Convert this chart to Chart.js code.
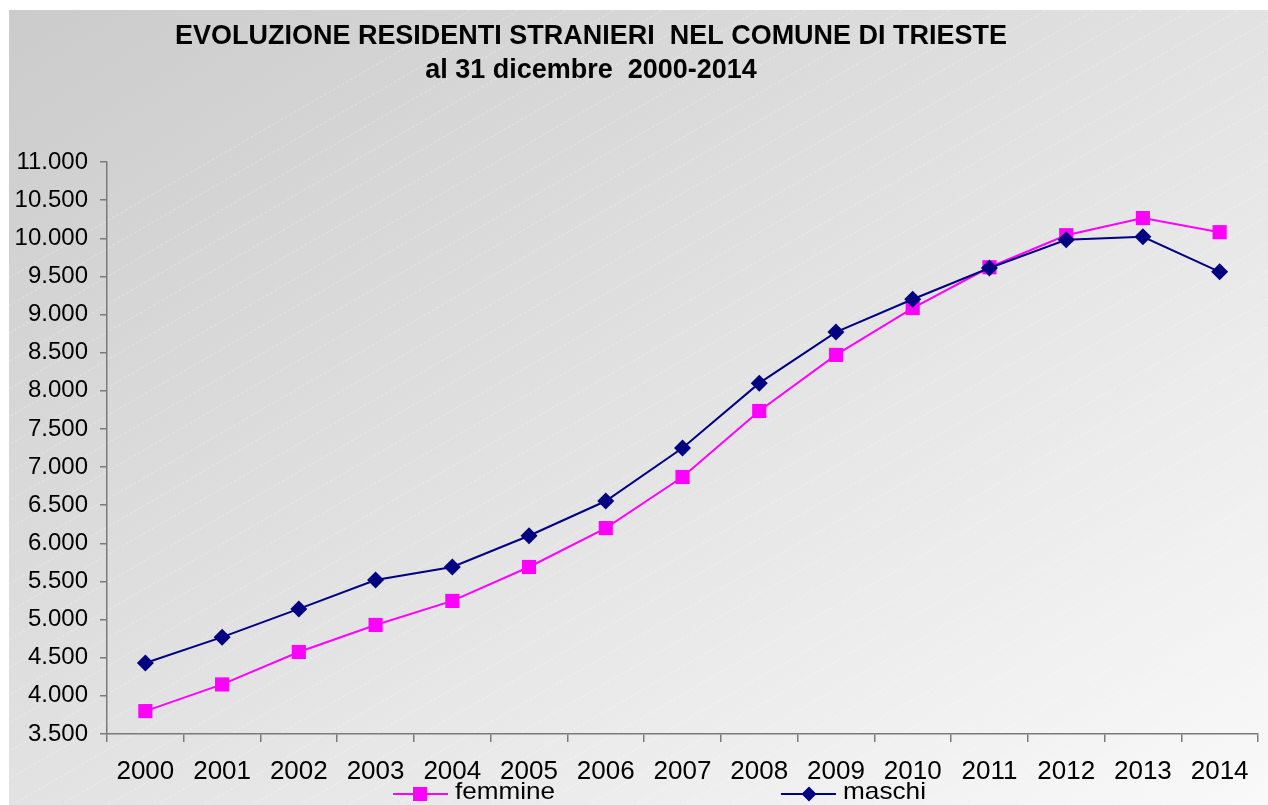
<!DOCTYPE html>
<html><head><meta charset="utf-8">
<script src="https://cdn.jsdelivr.net/npm/chart.js@4/dist/chart.umd.min.js"></script>
<style>html,body{margin:0;padding:0;background:#fff;overflow:hidden}canvas{display:block}</style>
</head><body>
<canvas id="c" width="1268" height="805"></canvas>
<script>
const years = ['2000','2001','2002','2003','2004','2005','2006','2007','2008','2009','2010','2011','2012','2013','2014'];
const femmine = [3800,4150,4575,4930,5245,5690,6200,6870,7735,8470,9085,9620,10040,10265,10080];
const maschi = [4430,4770,5140,5520,5690,6100,6555,7250,8100,8770,9200,9610,9980,10020,9560];
const seriesNames = ['femmine','maschi'];
const titleLines = ['EVOLUZIONE RESIDENTI STRANIERI  NEL COMUNE DI TRIESTE','al 31 dicembre  2000-2014'];
const yMin = 3500, yMax = 11000, yStep = 500;

const FONT = "'Liberation Sans', Arial, sans-serif";
Chart.defaults.font.family = FONT;

function fmt(v){ return String(v).replace(/\B(?=(\d{3})+(?!\d))/g,'.'); }

const bgPlugin = {
  id:'bg',
  beforeDraw(chart){
    const ctx = chart.ctx, W = chart.width, H = chart.height;
    ctx.save();
    ctx.fillStyle = '#ffffff';
    ctx.fillRect(0,0,W,H);
    const x0 = 9, y0 = 10;
    const g = ctx.createLinearGradient(x0, y0, 727, 1147);
    g.addColorStop(0, '#cbcbcb');
    g.addColorStop(0.5, '#e2e2e2');
    g.addColorStop(1, '#f9f9f9');
    ctx.fillStyle = g;
    ctx.fillRect(x0, y0, W-x0, H-y0);
    ctx.beginPath(); ctx.rect(x0,y0,W-x0,H-y0); ctx.clip();
    ctx.strokeStyle = 'rgba(255,255,255,0.3)';
    ctx.lineWidth = 1;
    ctx.setLineDash([3,2]);
    const slope = 0.58;
    for (let x = -900; x < W + 900; x += 48) {
      ctx.beginPath();
      ctx.moveTo(x, H);
      ctx.lineTo(x + (H/slope), 0);
      ctx.stroke();
    }
    ctx.restore();
  }
};

const titlePlugin = {
  id:'customTitle',
  afterDraw(chart){
    const ctx = chart.ctx;
    ctx.save();
    ctx.fillStyle = '#000';
    ctx.font = "bold 27px " + FONT;
    ctx.textAlign = 'center';
    ctx.textBaseline = 'alphabetic';
    const w = ctx.measureText(titleLines[0]).width;
    const sx = 832 / w;
    const bases = [44, 78];
    titleLines.forEach((t,i)=>{
      ctx.save();
      ctx.translate(591, bases[i]);
      ctx.scale(sx,1);
      ctx.fillText(t,0,0);
      ctx.restore();
    });
    ctx.restore();
  }
};

const legendPlugin = {
  id:'customLegend',
  afterDraw(chart){
    const ctx = chart.ctx;
    const items = [
      {ds: chart.data.datasets[0], x0:393, x1:448, mx:420, tx:455, tw:100},
      {ds: chart.data.datasets[1], x0:781, x1:836, mx:809, tx:843, tw:83}
    ];
    const y = 794;
    ctx.save();
    items.forEach(it=>{
      ctx.strokeStyle = it.ds.borderColor;
      ctx.lineWidth = 2;
      ctx.beginPath(); ctx.moveTo(it.x0,y); ctx.lineTo(it.x1,y); ctx.stroke();
      ctx.fillStyle = it.ds.pointBackgroundColor;
      ctx.beginPath();
      if (it.ds.pointStyle === 'rect') {
        ctx.rect(it.mx-7, y-7, 14, 14);
      } else {
        const r = 7.5;
        ctx.moveTo(it.mx-r,y); ctx.lineTo(it.mx,y-r); ctx.lineTo(it.mx+r,y); ctx.lineTo(it.mx,y+r); ctx.closePath();
      }
      ctx.fill();
      ctx.fillStyle = '#000';
      ctx.font = "24px " + FONT;
      ctx.textAlign = 'left';
      ctx.textBaseline = 'alphabetic';
      const w = ctx.measureText(it.ds.label).width;
      ctx.save();
      ctx.translate(it.tx, 799);
      ctx.scale(it.tw / w, 1);
      ctx.fillText(it.ds.label, 0, 0);
      ctx.restore();
    });
    ctx.restore();
  }
};

const axisColor = '#7a7a7a';

new Chart(document.getElementById('c'), {
  type:'line',
  data:{
    labels: years,
    datasets:[
      {label: seriesNames[0], data: femmine, borderColor:'#ff00ff', backgroundColor:'#ff00ff',
       pointBackgroundColor:'#ff00ff', pointBorderColor:'#ff00ff', pointStyle:'rect', pointRadius:10,
       pointBorderWidth:0, borderWidth:2, tension:0, fill:false, order:1},
      {label: seriesNames[1], data: maschi, borderColor:'#000080', backgroundColor:'#000080',
       pointBackgroundColor:'#000080', pointBorderColor:'#000080', pointStyle:'rectRot', pointRadius:8.5,
       pointBorderWidth:0, borderWidth:2, tension:0, fill:false, order:0}
    ]
  },
  options:{
    responsive:false,
    devicePixelRatio:1,
    animation:false,
    layout:{padding:{left:9, top:162, right:2, bottom:0}},
    plugins:{legend:{display:false}, title:{display:false}, tooltip:{enabled:false}},
    scales:{
      x:{
        type:'category',
        offset:true,
        grid:{offset:true, drawOnChartArea:false, drawTicks:true, tickLength:8, color:axisColor, lineWidth:1.5},
        border:{display:true, color:axisColor, width:1.5},
        ticks:{color:'#000', font:{size:26}, padding:14, maxRotation:0, autoSkip:false},
        afterFit(s){ s.height = 71; }
      },
      y:{
        min:yMin, max:yMax,
        grid:{drawOnChartArea:false, drawTicks:true, tickLength:7, color:axisColor, lineWidth:1.5},
        border:{display:true, color:axisColor, width:1.5},
        ticks:{stepSize:yStep, color:'#000', font:{size:24}, padding:12, callback:(v)=>fmt(v)},
        afterFit(s){ s.width = 98; }
      }
    }
  },
  plugins:[bgPlugin, titlePlugin, legendPlugin]
});
</script>
</body></html>
